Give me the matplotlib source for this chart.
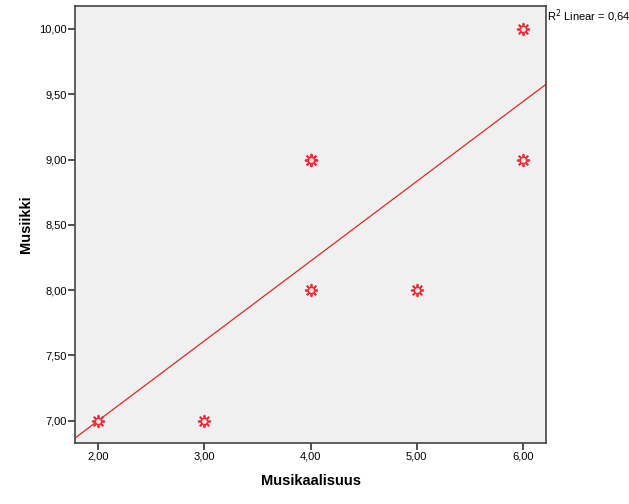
import matplotlib
matplotlib.use('Agg')
import matplotlib.pyplot as plt
import numpy as np

plt.rcParams['font.family'] = ['Liberation Sans', 'DejaVu Sans']

# data, (4, 9) appears twice
musikaalisuus = [2, 3, 4, 4, 4, 5, 6, 6]
musiikki = [7, 7, 9, 9, 8, 8, 10, 9]
x_ticks = [2, 3, 4, 5, 6]
y_ticks = [7.0, 7.5, 8.0, 8.5, 9.0, 9.5, 10.0]

red = '#e8303c'

fig = plt.figure(figsize=(6.29, 5.04), dpi=100)
ax = fig.add_axes([75 / 629, 61 / 504, 471 / 629, 437 / 504])
ax.set_facecolor('#f0f0f0')

ax.set_xlim(1.784, 6.216)
ax.set_ylim(6.83, 10.176)

# linear fit line across the whole axis
slope, intercept = np.polyfit(musikaalisuus, musiikki, 1)
r2 = np.corrcoef(musikaalisuus, musiikki)[0, 1] ** 2
xs = np.array(ax.get_xlim())
ax.plot(xs, intercept + slope * xs, color='#e02828', lw=0.9, zorder=2)

# sunflower-like markers: small ring plus rays
ax.scatter(musikaalisuus, musiikki, s=70, marker=(8, 2, 0), color=red, linewidths=1.3, zorder=3)
ax.scatter(musikaalisuus, musiikki, s=22, marker='o', facecolor='#fbe0e0', edgecolor=red, linewidths=1.2, zorder=4)

ax.set_xticks(x_ticks)
ax.set_xticklabels([f'{v:.2f}'.replace('.', ',') for v in x_ticks])
ax.set_yticks(y_ticks)
ax.set_yticklabels([f'{v:.2f}'.replace('.', ',') for v in y_ticks])
ax.tick_params(direction='out', length=5, width=1.2, color='#333333', labelsize=8, pad=1)

for sp in ax.spines.values():
    sp.set_color('#444444')
    sp.set_linewidth(1.2)

ax.set_xlabel('Musikaalisuus', fontsize=10.5, fontweight='bold', labelpad=9)
ax.set_ylabel('Musiikki', fontsize=10.5, fontweight='bold', labelpad=4)

fig.text(547 / 629, 1 - 16 / 504, f'R$^2$ Linear = {r2:.2f}'.replace('.', ','), fontsize=8,
         ha='left', va='center')

fig.savefig('out.png', dpi=100)
